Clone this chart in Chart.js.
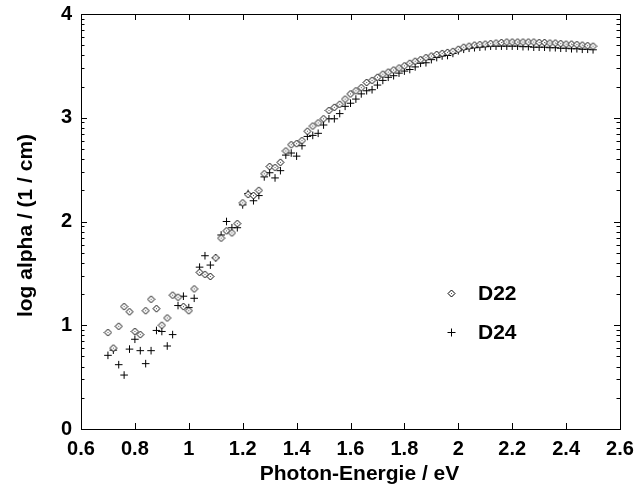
<!DOCTYPE html>
<html>
<head>
<meta charset="utf-8">
<script src="https://cdn.jsdelivr.net/npm/chart.js@4/dist/chart.umd.min.js"></script>
<style>
html,body{margin:0;padding:0;background:#fff;}
#wrap{width:637px;height:493px;position:relative;}
</style>
</head>
<body>
<div id="wrap"><canvas id="c" width="637" height="493"></canvas></div>
<script>
const energies = [0.70,0.72,0.74,0.76,0.78,0.80,0.82,0.84,0.86,0.88,0.90,0.92,0.94,0.96,0.98,1.00,1.02,1.04,1.06,1.08,1.10,1.12,1.14,1.16,1.18,1.20,1.22,1.24,1.26,1.28,1.30,1.32,1.34,1.36,1.38,1.40,1.42,1.44,1.46,1.48,1.50,1.52,1.54,1.56,1.58,1.60,1.62,1.64,1.66,1.68,1.70,1.72,1.74,1.76,1.78,1.80,1.82,1.84,1.86,1.88,1.90,1.92,1.94,1.96,1.98,2.00,2.02,2.04,2.06,2.08,2.10,2.12,2.14,2.16,2.18,2.20,2.22,2.24,2.26,2.28,2.30,2.32,2.34,2.36,2.38,2.40,2.42,2.44,2.46,2.48,2.50];
const d22 = [0.93,0.78,0.99,1.18,1.13,0.94,0.91,1.14,1.25,1.16,1.00,1.07,1.29,1.27,1.18,1.14,1.35,1.51,1.49,1.47,1.65,1.84,1.91,1.89,1.98,2.18,2.26,2.25,2.30,2.46,2.53,2.52,2.57,2.68,2.74,2.75,2.78,2.87,2.92,2.95,2.99,3.07,3.10,3.13,3.18,3.23,3.26,3.29,3.34,3.36,3.39,3.42,3.44,3.46,3.48,3.50,3.525,3.545,3.56,3.58,3.595,3.61,3.62,3.63,3.64,3.66,3.68,3.69,3.70,3.705,3.71,3.715,3.72,3.725,3.73,3.73,3.73,3.73,3.73,3.73,3.725,3.725,3.72,3.72,3.715,3.71,3.71,3.705,3.70,3.695,3.69];
const d24 = [0.71,0.76,0.62,0.52,0.77,0.865,0.755,0.63,0.755,0.95,0.94,0.80,0.91,1.19,1.28,1.17,1.26,1.56,1.67,1.58,1.65,1.87,2.00,1.94,1.94,2.16,2.27,2.20,2.25,2.43,2.47,2.42,2.49,2.64,2.66,2.63,2.73,2.82,2.83,2.85,2.93,2.99,2.99,3.04,3.11,3.14,3.18,3.23,3.26,3.27,3.315,3.36,3.39,3.405,3.43,3.45,3.465,3.49,3.525,3.53,3.56,3.58,3.595,3.60,3.62,3.645,3.66,3.67,3.675,3.68,3.685,3.69,3.69,3.69,3.69,3.69,3.69,3.685,3.685,3.68,3.68,3.68,3.675,3.675,3.67,3.67,3.665,3.665,3.66,3.66,3.655];
const xTicks = [0.6,0.8,1.0,1.2,1.4,1.6,1.8,2.0,2.2,2.4,2.6];
const yTicks = [0,1,2,3,4];
const seriesNames = ['D22','D24'];
const xTitle = 'Photon-Energie / eV';
const yTitle = 'log alpha / (1 / cm)';

const FONT = '"Liberation Sans", Arial, sans-serif';

function makeDiamond(){
  const c = document.createElement('canvas');
  c.width = 9; c.height = 9;
  const g = c.getContext('2d');
  g.beginPath();
  g.moveTo(4.5,1); g.lineTo(8,4.5); g.lineTo(4.5,8); g.lineTo(1,4.5); g.closePath();
  g.fillStyle = '#fff'; g.fill();
  g.strokeStyle = '#000'; g.lineWidth = 1; g.stroke();
  g.fillStyle = '#555'; g.fillRect(4,4,1,1);
  return c;
}
const diamond = makeDiamond();

const framePlugin = {
  id: 'frameTicks',
  afterDatasetsDraw(chart){
    const {ctx, chartArea:a, scales:{x, y}} = chart;
    ctx.save();
    ctx.strokeStyle = '#000';
    ctx.lineWidth = 1;
    ctx.strokeRect(Math.round(a.left)+0.5, Math.round(a.top)+0.5, Math.round(a.right-a.left), Math.round(a.bottom-a.top));
    ctx.beginPath();
    xTicks.forEach(v => {
      const px = Math.round(x.getPixelForValue(v)) + 0.5;
      ctx.moveTo(px, a.bottom); ctx.lineTo(px, a.bottom - 6);
      ctx.moveTo(px, a.top); ctx.lineTo(px, a.top + 6);
    });
    for (let d = 0; d < 4; d++) {
      for (let k = 1; k <= 9; k++) {
        const v = d + Math.log10(k);
        const py = Math.round(y.getPixelForValue(v)) + 0.5;
        const len = k === 1 ? 6 : 3.5;
        ctx.moveTo(a.left, py); ctx.lineTo(a.left + len, py);
        ctx.moveTo(a.right, py); ctx.lineTo(a.right - len, py);
      }
    }
    ctx.stroke();
    // legend
    const lx = Math.round(a.left + 370), ly1 = Math.round(a.top + 279), ly2 = Math.round(a.top + 318);
    ctx.drawImage(diamond, lx - 4, ly1 - 4);
    ctx.beginPath();
    ctx.lineWidth = 1;
    ctx.moveTo(lx - 3.5, ly2 + 0.5); ctx.lineTo(lx + 4.5, ly2 + 0.5);
    ctx.moveTo(lx + 0.5, ly2 - 3.5); ctx.lineTo(lx + 0.5, ly2 + 4.5);
    ctx.stroke();
    ctx.fillStyle = '#000';
    ctx.font = 'bold 21px ' + FONT;
    ctx.textBaseline = 'middle';
    ctx.textAlign = 'left';
    ctx.fillText(seriesNames[0], lx + 27, ly1 + 1);
    ctx.fillText(seriesNames[1], lx + 27, ly2 + 1);
    // axis titles
    ctx.textAlign = 'center';
    ctx.fillText(xTitle, (a.left + a.right) / 2 + 9, a.bottom + 45);
    ctx.save();
    ctx.translate(26, (a.top + a.bottom) / 2 + 4);
    ctx.rotate(-Math.PI / 2);
    ctx.fillText(yTitle, 0, 0);
    ctx.restore();
    ctx.restore();
  }
};

new Chart(document.getElementById('c'), {
  type: 'scatter',
  data: {
    datasets: [
      {
        label: seriesNames[0],
        data: energies.map((e,i) => ({x:e, y:d22[i]})),
        pointStyle: diamond,
        pointRadius: 4,
        showLine: false
      },
      {
        label: seriesNames[1],
        data: energies.map((e,i) => ({x:e, y:d24[i]})),
        pointStyle: 'cross',
        pointRadius: 3.8,
        borderColor: '#000',
        borderWidth: 1,
        showLine: false
      }
    ]
  },
  options: {
    responsive: false,
    animation: false,
    layout: { padding: { top: 14, right: 17, left: 0, bottom: 0 } },
    plugins: { legend: { display: false }, tooltip: { enabled: false } },
    scales: {
      x: {
        type: 'linear', min: 0.6, max: 2.6,
        afterBuildTicks: s => { s.ticks = xTicks.map(v => ({value: v})); },
        afterFit: s => { s.height = 64; s.paddingLeft = 0; s.paddingRight = 0; },
        grid: { display: false, drawTicks: false },
        border: { display: false },
        ticks: {
          color: '#000', padding: 8, maxRotation: 0, autoSkip: false,
          font: { family: FONT, size: 20, weight: 'bold' },
          callback: v => String(+v.toFixed(1))
        },
        title: { display: false }
      },
      y: {
        type: 'linear', min: 0, max: 4,
        afterBuildTicks: s => { s.ticks = yTicks.map(v => ({value: v})); },
        afterFit: s => { s.width = 81; s.paddingTop = 0; s.paddingBottom = 0; },
        grid: { display: false, drawTicks: false },
        border: { display: false },
        ticks: {
          color: '#000', padding: 9,
          font: { family: FONT, size: 20, weight: 'bold' },
          callback: v => String(v)
        },
        title: { display: false }
      }
    }
  },
  plugins: [framePlugin]
});
</script>
</body>
</html>
